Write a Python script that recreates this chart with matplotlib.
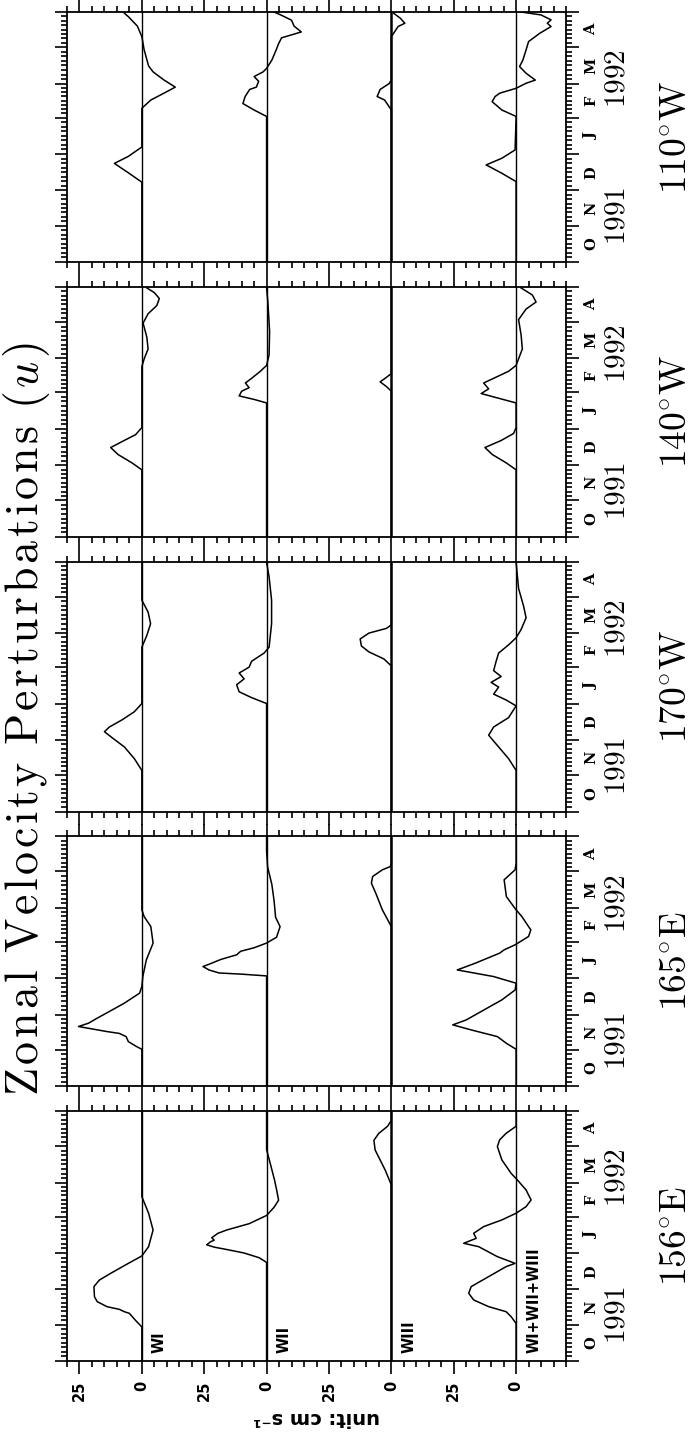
import matplotlib.pyplot as plt
from matplotlib.ticker import FixedLocator, NullFormatter

plt.rcParams['mathtext.fontset'] = 'cm'

# panel names, top to bottom in the rotated page
locations = ['110^{\\circ}W', '140^{\\circ}W', '170^{\\circ}W', '165^{\\circ}E', '156^{\\circ}E']
wave_names = ['WI', 'WII', 'WIII', 'WI+WII+WIII']
months = ['O', 'N', 'D', 'J', 'F', 'M', 'A']
month_starts = [0, 31, 61, 92, 123, 152, 183, 213]   # days since 1 Oct 1991
years = ['1991', '1992']
year_days = [39, 156]

# (day since 1 Oct 1991, u in cm/s)
w1_110W = [(0, 0), (68, 0), (76, 5.4), (84, 11), (90, 5.4), (98, 0), (131, 0), (138, -3.6), (144, -9),
           (149, -13.4), (155, -8.9), (162, -4.5), (167, -2.7), (181, -0.9), (192, 0), (201, 1.8),
           (209, 5.4), (212, 7)]
w2_110W = [(0, 0), (124, 0), (129.5, 5), (135, 9.5), (141, 8.6), (147, 6.8), (149, 4.1), (154, 3.2),
           (158, 5), (162, 1.4), (165, 0), (172, -2.1), (181, -3.9), (186, -4.8), (191, -6),
           (196, -13.9), (201, -11), (206, -10), (210.5, -5.7), (213, -3)]
w3_110W = [(0, 0), (129.5, 0), (138, 2.7), (141, 5.7), (147, 4.5), (152, 0.9), (155, 0), (192, 0),
           (200.6, -2.7), (203.4, -5.4), (207.7, -3.6), (212, -0.9)]
w4_110W = [(0, 0), (68.5, 0), (75.6, 5.7), (82.7, 12), (88.4, 5.7), (95.5, 0.4), (124, 0), (129.5, 5.7),
           (136.6, 9.6), (141, 8.4), (143.8, 6.6), (148, 0), (152.3, -4), (155, -7.7), (160.8, -4),
           (166.5, -1.4), (172, -2.7), (180.7, -4), (187.8, -5), (194.9, -9.5), (200.6, -14),
           (203.4, -12.5), (206.3, -14), (210.5, -10), (213, -2)]

w1_140W = [(0, 0), (57, 0), (63, 4), (70, 9.5), (76, 12.5), (81, 8), (87, 2.5), (93, 0), (145, 0),
           (152, -1), (160, -2.5), (170, -2), (182, -0.5), (190, -2.5), (197, -6), (203, -7),
           (208, -5), (212, -2)]
w2_140W = [(0, 0), (114, 0), (117, 5), (120, 11), (124, 10), (127, 7), (131, 8.5), (135, 6), (141, 2.5),
           (146, 0), (155, -1), (175, -1.2), (200, -0.5), (212, 0)]
w3_140W = [(0, 0), (124, 0), (128, 2), (132, 4.5), (135, 2.5), (139, 0), (212, 0)]
w4_140W = [(0, 0), (57, 0), (63, 4), (70, 9.5), (76, 12.5), (82, 6), (88, 1), (93, 0), (114, 0),
           (118, 7), (122, 14), (126, 11), (131, 13), (136, 8), (141, 3), (146, 0), (160, -2.5),
           (172, -2), (185, -1), (194, -4), (200, -8), (206, -6.5), (212, -2)]

w1_170W = [(0, 0), (35, 0), (45, 3), (55, 7), (63, 12), (68, 15), (72, 13), (78, 8), (85, 3), (92, 0),
           (140, 0), (150, -2), (160, -3.5), (170, -2.5), (180, 0), (212, 0)]
w2_170W = [(0, 0), (92, 0), (97, 6), (102, 11), (108, 12), (113, 9), (118, 11), (123, 7), (128, 6),
           (135, 1), (140, -1), (160, -2), (180, -2), (200, -1), (212, 0)]
w3_170W = [(0, 0), (124, 0), (130, 3), (136, 9), (141, 12), (147, 12.5), (152, 9), (156, 2), (159, 0),
           (212, 0)]
w4_170W = [(0, 0), (35, 0), (45, 3), (55, 7), (65, 11), (72, 9), (80, 3), (90, 0), (95, 4), (100, 9),
           (106, 7), (110, 10), (115, 6), (120, 9), (128, 8), (135, 7), (142, 3), (148, 0), (155, -2),
           (165, -4), (175, -3), (190, -1), (212, 0)]

w1_165E = [(0, 0), (31.5, 0), (33.8, 2.1), (38, 5.4), (42.3, 6.3), (45, 9), (46.6, 14), (50.9, 25.4),
           (53.7, 21.4), (58, 17.9), (62.2, 14.3), (70.7, 7.1), (79.3, 0.9), (85, 0), (93.5, -0.4),
           (107.7, -1.8), (121.9, -4.5), (136, -3.6), (144.6, -0.9), (150.3, 0), (212, 0)]
w2_165E = [(0, 0), (94, 0), (95.5, 10), (96.5, 19), (99, 23), (102, 25.5), (104, 23), (108, 18.4),
           (112, 12), (115, 10.4), (118, 5), (122, 0), (127, -4), (136, -5.4), (144, -3.6), (158, -3),
           (172, -2.1), (187, -0.4), (200, 0), (212, 0)]
w3_165E = [(0, 0), (136, 0), (150.3, 3.6), (164.5, 6.25), (173, 8), (178.7, 7.5), (184.4, 3.6),
           (187.2, 0.4), (190, 0), (212, 0)]
w4_165E = [(0, 0), (31.5, 0), (36.6, 3.9), (42.3, 7.5), (48, 18), (52.3, 25.4), (56.5, 20), (65, 12.9),
           (73.6, 5.7), (82, 0.4), (87.8, 0), (93.5, 9.1), (99.1, 23.6), (104.8, 16.4), (113.4, 6.6),
           (116.2, 4.8), (120.5, 0.4), (127.6, -5), (133.2, -5.9), (144.6, -2.3), (150.3, 0),
           (161.6, 3.9), (175.9, 4.8), (184.4, 0.4), (190, 0), (212, 0)]

w1_156E = [(0, 0), (29, 0), (35, 2.7), (40.6, 5), (42, 7), (44, 9), (46.3, 14), (50.6, 17.9),
           (54.8, 19), (63.4, 19.2), (69, 17), (74.7, 12.5), (83.2, 5.4), (89.5, 0), (97.4, -2.7),
           (111.6, -4.5), (125.9, -2.7), (140, 0), (212, 0)]
w2_156E = [(0, 0), (84, 0), (88, 3), (92, 9), (95, 16), (97, 21), (99, 24), (101.5, 22.5),
           (103, 21), (105, 22), (108.8, 19.5), (111.6, 16), (117, 7), (124, 0), (131, -3), (137, -4.8),
           (146, -4), (154, -3.2), (168, -1.5), (180, 0), (212, 0)]
w3_156E = [(0, 0), (150, 0), (162.8, 2.5), (179.8, 6.5), (188, 7), (194, 5), (200, 1.5), (205, 0),
           (212, 0)]
w4_156E = [(0, 0), (32, 0), (37.8, 2), (42, 4), (46.3, 11), (52, 17), (57.7, 19), (63.4, 18), (71.9, 11),
           (80.4, 4), (83.2, 0.4), (88.9, 7.5), (97.4, 15), (100.3, 21), (104.5, 16), (108.8, 17),
           (114.5, 13), (120.2, 5.7), (125.9, 0), (131.5, -4), (137.2, -6), (145.7, -4), (154.3, -0.5),
           (159.9, 2), (171.3, 5.7), (182.7, 7.5), (188.4, 6.6), (194, 4), (200, 0), (212, 0)]

panel_waves = [
    [w1_110W, w2_110W, w3_110W, w4_110W],
    [w1_140W, w2_140W, w3_140W, w4_140W],
    [w1_170W, w2_170W, w3_170W, w4_170W],
    [w1_165E, w2_165E, w3_165E, w4_165E],
    [w1_156E, w2_156E, w3_156E, w4_156E],
]

W, H = 697, 1435
fig = plt.figure(figsize=(W / 100, H / 100), dpi=100)

offset = 50          # spacing between the four strips (cm/s)
u_top, u_bot = 30, -170

for p, waves in enumerate(panel_waves):
    top = 12 + 274.75 * p
    ax = fig.add_axes([67 / W, 1 - (top + 250) / H, 499 / W, 250 / H])
    ax.set_xlim(u_top, u_bot)
    ax.set_ylim(month_starts[0], month_starts[-1])

    for i, pts in enumerate(waves):
        days = [d for d, u in pts]
        vals = [u - offset * i for d, u in pts]
        ax.axvline(-offset * i, color='black', lw=1.8 if i == 2 else 1.0, zorder=1)
        ax.plot(vals, days, color='black', lw=1.1, zorder=2)

    majors = list(range(25, -151, -25))
    ax.xaxis.set_major_locator(FixedLocator(majors))
    ax.xaxis.set_minor_locator(FixedLocator(range(u_top, u_bot - 1, -5)))
    ax.yaxis.set_major_locator(FixedLocator(month_starts))
    minor_days = []
    for a, b in zip(month_starts[:-1], month_starts[1:]):
        minor_days += [a + (b - a) * k / 8 for k in range(1, 8)]
    ax.yaxis.set_minor_locator(FixedLocator(minor_days))
    ax.yaxis.set_major_formatter(NullFormatter())
    ax.tick_params(axis='x', which='both', direction='out', top=True, bottom=True, width=1.2)
    ax.tick_params(axis='y', which='both', direction='out', left=True, right=True, width=1.2)
    ax.tick_params(which='major', length=9)
    ax.tick_params(which='minor', length=4.5)
    for s in ax.spines.values():
        s.set_linewidth(1.3)

    if p == len(panel_waves) - 1:
        ax.set_xticklabels(['0' if v % 50 == 0 else '25' for v in majors], rotation=90,
                           fontweight='bold', fontsize=10.5, family='DejaVu Sans')
        ax.tick_params(axis='x', pad=5)
        for i, name in enumerate(wave_names):
            ax.text(-7 - offset * i, 7, name, rotation=90, ha='center', va='bottom',
                    fontsize=10.5, fontweight='bold', family='DejaVu Sans')
    else:
        ax.xaxis.set_major_formatter(NullFormatter())

    tr = ax.get_yaxis_transform()
    for m, a, b in zip(months, month_starts[:-1], month_starts[1:]):
        ax.text(1.05, (a + b) / 2, m, transform=tr, rotation=90, ha='center', va='center',
                fontsize=10.5, fontweight='bold', family='DejaVu Serif')
    for yl, yd in zip(years, year_days):
        ax.text(1.102, yd, '$\\mathrm{%s}$' % yl, transform=tr, rotation=90, ha='center',
                va='center', fontsize=21)
    ax.text(1.22, 106.5, '$\\mathrm{%s}$' % locations[p], transform=tr, rotation=90, ha='center',
            va='center', fontsize=27)

title = ''
for ch in 'Zonal Velocity Perturbations (':
    title += '\\ ' if ch == ' ' else ch + '\\hspace{0.09}'
title = '$\\mathrm{' + title + '}u\\hspace{0.09}\\mathrm{)}$'
fig.text(27 / W, 1 - 718.5 / H, title, rotation=90, ha='center', va='center', fontsize=33)

fig.text(316 / W, 1 - 1417 / H, 'unit: cm s⁻¹', rotation=180, ha='center', va='center',
         fontsize=14, fontweight='bold', family='DejaVu Sans')

fig.savefig('out.png', dpi=100)
